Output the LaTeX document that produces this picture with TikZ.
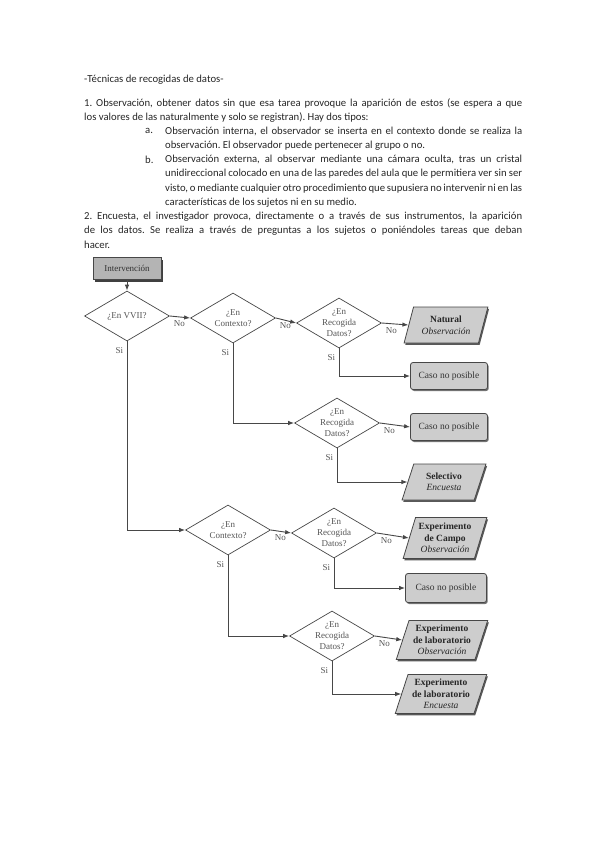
\documentclass[tikz,border=0pt]{standalone}
\usepackage{fontspec}
\setmainfont{Carlito}
\newfontfamily\flowfont{Liberation Serif}
\usetikzlibrary{positioning, shapes.geometric, arrows.meta, shadows}
\frenchspacing

\definecolor{lineg}{HTML}{474747}
\definecolor{boxg}{HTML}{CDCDCD}
\definecolor{txtg}{HTML}{555555}

\begin{document}
\begin{tikzpicture}[x=1pt, y=-1pt,
    txt/.style={anchor=west, inner sep=0pt, font=\fontsize{10.7}{12}\selectfont, text=black!85},
    start/.style={rectangle, draw=lineg, thick, fill=boxg!88!black, minimum width=68pt, minimum height=22pt, font=\flowfont\fontsize{9}{10}\selectfont, text=black!80, drop shadow={shadow xshift=2.2pt, shadow yshift=-2.2pt, fill=black!75, opacity=1}},
    decision/.style={diamond, draw=lineg, line width=0.7pt, fill=white, inner sep=0pt, aspect=1.7, minimum width=85pt, minimum height=50pt, align=center, font=\flowfont\fontsize{9}{11}\selectfont, text=txtg},
    result/.style={rectangle, rounded corners=2.5pt, draw=lineg, thick, fill=boxg, minimum width=77pt, minimum height=27pt, font=\flowfont\fontsize{9.5}{10}\selectfont, text=black!80, drop shadow={shadow xshift=1.2pt, shadow yshift=-1.5pt, fill=black!55, opacity=1}},
    output/.style={trapezium, trapezium left angle=70, trapezium right angle=110, trapezium stretches=true, draw=lineg, thick, fill=boxg, minimum width=84pt, minimum height=36pt, inner sep=1pt, align=center, font=\flowfont\fontsize{9.5}{11.5}\selectfont, text=black!85, drop shadow={shadow xshift=1.2pt, shadow yshift=-1.8pt, fill=black!65, opacity=1}},
    arr/.style={-{Latex[length=6pt, width=4.5pt]}, lineg, line width=0.9pt},
    lbl/.style={font=\flowfont\fontsize{9}{9}\selectfont, text=txtg, inner sep=0.5pt},
    nolbl/.style={lbl, anchor=north west, xshift=3pt, yshift=-4pt},
    silbl/.style={lbl, anchor=north east, xshift=-3pt, yshift=-5pt}
]
    \useasboundingbox (0, 0) rectangle (599, 848);
    % Text above the chart
    \node[txt] (t0) at (84, 80) {-Técnicas de recogidas de datos-};
    \node[txt] (t1) at (84, 103) {\makebox[438pt][s]{1. Observación, obtener datos sin que esa tarea provoque la aparición de estos (se espera a que}};
    \node[txt] (t2) at (84, 117.2) {los valores de las naturalmente y solo se registran). Hay dos tipos:};
    \node[txt] (t3a) at (145, 131.4) {a.};
    \node[txt] (t3) at (165, 131.4) {\makebox[357pt][s]{Observación interna, el observador se inserta en el contexto donde se realiza la}};
    \node[txt] (t4) at (165, 145.6) {observación. El observador puede pertenecer al grupo o no.};
    \node[txt] (t5a) at (145, 159.8) {b.};
    \node[txt] (t5) at (165, 159.8) {\makebox[357pt][s]{Observación externa, al observar mediante una cámara oculta, tras un cristal}};
    \node[txt] (t6) at (165, 174) {\makebox[357pt][s]{unidireccional colocado en una de las paredes del aula que le permitiera ver sin ser}};
    \node[txt] (t7) at (165, 188.2) {\makebox[357pt][s]{visto, o mediante cualquier otro procedimiento que supusiera no intervenir ni en las}};
    \node[txt] (t8) at (165, 202.4) {características de los sujetos ni en su medio.};
    \node[txt] (t9) at (84, 216.6) {\makebox[438pt][s]{2. Encuesta, el investigador provoca, directamente o a través de sus instrumentos, la aparición}};
    \node[txt] (t10) at (84, 230.8) {\makebox[438pt][s]{de los datos. Se realiza a través de preguntas a los sujetos o poniéndoles tareas que deban}};
    \node[txt] (t11) at (84, 245) {hacer.};
    % Decisions
    \node[start] (interv) at (127, 268.5) {Intervención};
    \node[decision] (d1) at (127, 316) {¿En VVII?};
    \node[decision] (d2) at (233, 318) {¿En\\Contexto?};
    \node[decision] (d3) at (339, 323) {¿En\\Recogida\\Datos?};
    \node[decision] (d4) at (337, 423) {¿En\\Recogida\\Datos?};
    \node[decision] (d5) at (228, 530) {¿En\\Contexto?};
    \node[decision] (d6) at (334, 533) {¿En\\Recogida\\Datos?};
    \node[decision] (d7) at (332, 636) {¿En\\Recogida\\Datos?};
    % Results
    \node[output] (nat) at (446, 325) {\textbf{Natural}\\\textit{Observación}};
    \node[result] (caso1) at (449, 376) {Caso no posible};
    \node[result] (caso2) at (449, 427) {Caso no posible};
    \node[output] (sel) at (444, 482) {\textbf{Selectivo}\\\textit{Encuesta}};
    \node[output, minimum height=41pt] (campo) at (445, 538) {\textbf{Experimento}\\\textbf{de Campo}\\\textit{Observación}};
    \node[result, minimum width=81pt, minimum height=29pt] (caso3) at (446, 588) {Caso no posible};
    \node[output, minimum width=92pt, minimum height=39pt] (labobs) at (442, 640) {\textbf{Experimento}\\\textbf{de laboratorio}\\\textit{Observación}};
    \node[output, minimum width=92pt, minimum height=39pt] (labenc) at (441, 694) {\textbf{Experimento}\\\textbf{de laboratorio}\\\textit{Encuesta}};
    % Connectors
    \draw[arr] (interv) -- (d1);
    \draw[arr] (d1.east) node[nolbl] (no1) {No} -- (d2.west);
    \draw[arr] (d2.east) node[nolbl] (no2) {No} -- (d3.west);
    \draw[arr] (d3.east) node[nolbl] (no3) {No} -- (nat.west);
    \draw[arr] (d3.south) node[silbl] (si3) {Si} |- (caso1.west);
    \draw[arr] (d2.south) node[silbl] (si2) {Si} |- (d4.west);
    \draw[arr] (d4.east) node[nolbl] (no4) {No} -- (caso2.west);
    \draw[arr] (d4.south) node[silbl] (si4) {Si} |- (sel.west);
    \draw[arr] (d1.south) node[silbl] (si1) {Si} |- (d5.west);
    \draw[arr] (d5.east) node[nolbl] (no5) {No} -- (d6.west);
    \draw[arr] (d5.south) node[silbl] (si5) {Si} |- (d7.west);
    \draw[arr] (d6.east) node[nolbl] (no6) {No} -- (campo.west);
    \draw[arr] (d6.south) node[silbl] (si6) {Si} |- (caso3.west);
    \draw[arr] (d7.east) node[nolbl] (no7) {No} -- (labobs.west);
    \draw[arr] (d7.south) node[silbl] (si7) {Si} |- (labenc.west);
\end{tikzpicture}
\end{document}
